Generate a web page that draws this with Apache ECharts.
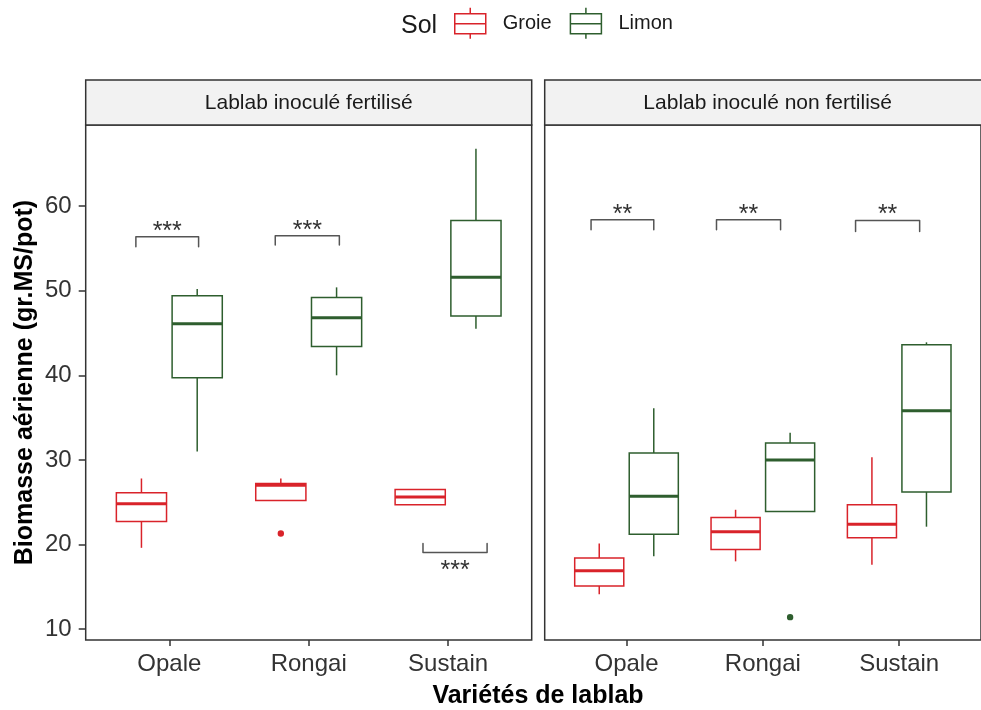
<!DOCTYPE html>
<html>
<head>
<meta charset="utf-8">
<script src="https://cdn.jsdelivr.net/npm/echarts@6/dist/echarts.min.js"></script>
<style>html,body{margin:0;padding:0;background:#fff;}#c{width:981px;height:710px;}</style>
</head>
<body>
<div id="c"></div>
<script>
// ---------- data ----------
const cats = ['Opale', 'Rongai', 'Sustain'];
const yTicks = [10, 20, 30, 40, 50, 60];
const panels = ['Lablab inoculé fertilisé', 'Lablab inoculé non fertilisé'];
const solLevels = ['Groie', 'Limon'];

// [lower whisker, Q1, median, Q3, upper whisker] per variety
const fertGroie = [[19.6, 22.7, 24.8, 26.1, 27.8], [25.2, 25.2, 27.0, 27.2, 27.8], [24.7, 24.7, 25.6, 26.5, 26.5]];
const fertLimon = [[31.0, 39.7, 46.1, 49.4, 50.2], [40.0, 43.4, 46.8, 49.2, 50.4], [45.5, 47.0, 51.6, 58.3, 66.8]];
const nonGroie = [[14.1, 15.1, 16.9, 18.4, 20.1], [18.0, 19.4, 21.5, 23.2, 24.1], [17.6, 20.8, 22.4, 24.7, 30.3]];
const nonLimon = [[18.6, 21.2, 25.7, 30.8, 36.1], [23.9, 23.9, 30.0, 32.0, 33.2], [22.1, 26.2, 35.8, 43.6, 43.9]];

// outliers: [variety number, value]
const fertGroieOut = [[2, 21.3]];
const fertLimonOut = [];
const nonGroieOut = [];
const nonLimonOut = [[2, 11.4]];

// significance brackets: [x start, x end, bracket level, tip end, label]
const fertSig = [[0.76, 1.21, 56.4, 55.2, '***'], [1.76, 2.22, 56.5, 55.4, '***'], [2.82, 3.28, 19.05, 20.1, '***']];
const nonSig = [[0.74, 1.20, 58.4, 57.2, '**'], [1.66, 2.13, 58.4, 57.2, '**'], [2.68, 3.15, 58.3, 57.0, '**']];

// ---------- styling ----------
const FF = 'Liberation Sans, Arial, Helvetica, sans-serif';
const COLORS = {Groie: '#D9232A', Limon: '#2E5E2E'};
const DODGE = {Groie: -0.2, Limon: 0.2};
const BOXW = 0.36;
const ICON = 'path://M0,6H31V26H0Z M0,16H31 M15.5,0V6 M15.5,26V31';

function boxSeries(name, stats, gi) {
  const col = COLORS[name], off = DODGE[name];
  return {
    type: 'custom', name: name, xAxisIndex: gi, yAxisIndex: gi,
    itemStyle: {color: col},
    encode: {x: 0, y: [1, 2, 3, 4, 5]},
    data: stats.map((s, i) => [i + 1].concat(s)),
    renderItem: function (params, api) {
      const x = api.value(0) + off;
      const lo = api.coord([x, api.value(1)]);
      const q1 = api.coord([x, api.value(2)]);
      const md = api.coord([x, api.value(3)]);
      const q3 = api.coord([x, api.value(4)]);
      const hi = api.coord([x, api.value(5)]);
      const hw = api.size([BOXW, 0])[0] / 2;
      const ls = {stroke: col, lineWidth: 1.5, fill: null};
      return {
        type: 'group',
        children: [
          {type: 'line', shape: {x1: hi[0], y1: hi[1], x2: q3[0], y2: q3[1]}, style: ls},
          {type: 'line', shape: {x1: q1[0], y1: q1[1], x2: lo[0], y2: lo[1]}, style: ls},
          {type: 'rect', shape: {x: q3[0] - hw, y: q3[1], width: 2 * hw, height: q1[1] - q3[1]}, style: {stroke: col, lineWidth: 1.5, fill: '#fff'}},
          {type: 'line', shape: {x1: md[0] - hw, y1: md[1], x2: md[0] + hw, y2: md[1]}, style: {stroke: col, lineWidth: 3}}
        ]
      };
    }
  };
}

function outSeries(name, pts, gi) {
  const col = COLORS[name], off = DODGE[name];
  return {
    type: 'custom', name: name + ' ', xAxisIndex: gi, yAxisIndex: gi,
    encode: {x: 0, y: 1},
    data: pts,
    renderItem: function (params, api) {
      const p = api.coord([api.value(0) + off, api.value(1)]);
      return {type: 'circle', shape: {cx: p[0], cy: p[1], r: 3.2}, style: {fill: col}};
    }
  };
}

function sigSeries(sig, gi) {
  return {
    type: 'custom', name: 'sig' + gi, xAxisIndex: gi, yAxisIndex: gi,
    encode: {x: [0, 1], y: [2, 3]},
    data: sig,
    renderItem: function (params, api) {
      const a = api.coord([api.value(0), api.value(2)]);
      const b = api.coord([api.value(1), api.value(2)]);
      const ta = api.coord([api.value(0), api.value(3)]);
      const above = ta[1] > a[1];
      const st = {stroke: '#555', lineWidth: 1.5, fill: null, lineJoin: 'round', lineCap: 'round'};
      return {
        type: 'group',
        children: [
          {type: 'polyline', shape: {points: [[a[0], ta[1]], [a[0], a[1]], [b[0], b[1]], [b[0], ta[1]]]}, style: st},
          {type: 'text', x: (a[0] + b[0]) / 2, y: above ? a[1] - 5 : a[1] + 19,
           style: {text: api.value(4), fontSize: 25, fontFamily: FF, fill: '#333', align: 'center', verticalAlign: 'middle'}}
        ]
      };
    }
  };
}

const GRID_L = [85.7, 544.7], GRID_T = 125, GRID_W = 446, GRID_H = 515;

const xAxes = [0, 1].map(gi => ({
  type: 'value', gridIndex: gi, min: 0.4, max: 3.6,
  axisLine: {show: false}, splitLine: {show: false},
  axisTick: {show: true, length: 6, customValues: [1, 2, 3], lineStyle: {color: '#333', width: 1.5}},
  axisLabel: {customValues: [1, 2, 3], formatter: v => cats[Math.round(v) - 1], fontSize: 24, color: '#333', margin: 12, fontFamily: FF}
}));

const yAxes = [0, 1].map(gi => ({
  type: 'value', gridIndex: gi, min: 8.7, max: 69.6,
  axisLine: {show: false}, splitLine: {show: false},
  axisTick: {show: gi === 0, length: 7, customValues: yTicks, lineStyle: {color: '#333', width: 1.5}},
  axisLabel: {show: gi === 0, customValues: yTicks, fontSize: 24, color: '#333', margin: 14, fontFamily: FF},
  name: gi === 0 ? 'Biomasse aérienne (gr.MS/pot)' : '',
  nameLocation: 'middle', nameGap: 48, nameRotate: 90,
  nameTextStyle: {fontSize: 25, fontWeight: 'bold', color: '#000', fontFamily: FF}
}));

const graphics = [];
panels.forEach((p, gi) => {
  graphics.push({type: 'rect', shape: {x: GRID_L[gi], y: 80, width: GRID_W, height: 45},
    style: {fill: '#F2F2F2', stroke: '#333', lineWidth: 1.5}, z: 10});
  graphics.push({type: 'text', x: GRID_L[gi] + GRID_W / 2, y: 103,
    style: {text: p, fontSize: 21, fontFamily: FF, fill: '#1A1A1A', align: 'center', verticalAlign: 'middle'}, z: 11});
});
graphics.push({type: 'text', x: 538, y: 696,
  style: {text: 'Variétés de lablab', fontSize: 25, fontWeight: 'bold', fontFamily: FF, fill: '#000', align: 'center', verticalAlign: 'middle'}});

const option = {
  animation: false,
  backgroundColor: '#fff',
  title: {text: 'Sol', left: 396, top: 9, textStyle: {fontSize: 25, fontWeight: 'normal', color: '#1A1A1A', fontFamily: FF}},
  legend: {
    left: 449, top: 2, itemWidth: 31, itemHeight: 31, itemGap: 18,
    textStyle: {fontSize: 20, color: '#1A1A1A', fontFamily: FF, padding: [5, 0, 0, 12]},
    data: solLevels.map(n => ({name: n, icon: ICON, itemStyle: {color: 'transparent', borderColor: COLORS[n], borderWidth: 1.5}}))
  },
  grid: [0, 1].map(gi => ({left: GRID_L[gi], top: GRID_T, width: GRID_W, height: GRID_H,
    show: true, borderColor: '#333', borderWidth: 1.5, backgroundColor: '#fff'})),
  xAxis: xAxes,
  yAxis: yAxes,
  graphic: graphics,
  series: [
    boxSeries('Groie', fertGroie, 0), boxSeries('Limon', fertLimon, 0),
    boxSeries('Groie', nonGroie, 1), boxSeries('Limon', nonLimon, 1),
    outSeries('Groie', fertGroieOut, 0), outSeries('Limon', fertLimonOut, 0),
    outSeries('Groie', nonGroieOut, 1), outSeries('Limon', nonLimonOut, 1),
    sigSeries(fertSig, 0), sigSeries(nonSig, 1)
  ]
};

const chart = echarts.init(document.getElementById('c'), null, {renderer: 'canvas'});
chart.setOption(option);
</script>
</body>
</html>
